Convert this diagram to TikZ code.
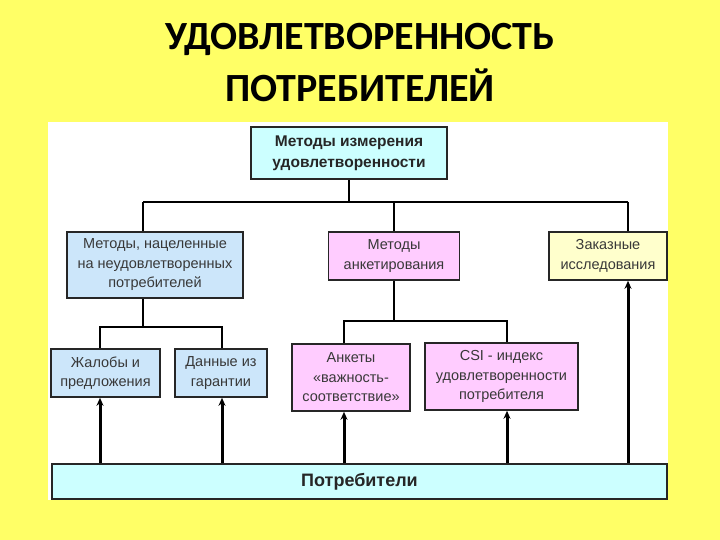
\documentclass[tikz,border=0pt]{standalone}
\usepackage{fontspec}
\setmainfont{Liberation Sans}
\newfontfamily\titlefont{Carlito}
\usetikzlibrary{arrows.meta}

\definecolor{bgyellow}{RGB}{255,255,102}
\definecolor{topcyan}{RGB}{204,255,255}
\definecolor{lblue}{RGB}{204,230,250}
\definecolor{lpink}{RGB}{255,204,255}
\definecolor{lyellow}{RGB}{255,255,204}

\begin{document}
\begin{tikzpicture}[x=1pt, y=-1pt,
    box/.style={rectangle, draw=black!85, line width=1.6pt, inner sep=0pt, align=center,
        font=\fontsize{14.5}{19.5}\selectfont, text=black!78},
    link/.style={line width=2.2pt},
    uparrow/.style={line width=3pt, -{Stealth[length=8pt, width=7pt]}},
    title/.style={font=\titlefont\bfseries\fontsize{40}{52}\selectfont, align=center}
]
    % background and panel
    \fill[bgyellow] (0,0) rectangle (720,540);
    \fill[white] (48,122) rectangle (668,500);

    % title
    \node[title] (title) at (360,63) {УДОВЛЕТВОРЕННОСТЬ\\ПОТРЕБИТЕЛЕЙ};

    % top
    \node[box, fill=topcyan, minimum width=196, minimum height=52, text=black!85,
        font=\bfseries\fontsize{15.5}{21}\selectfont]
        (top) at (349,153) {Методы измерения\\удовлетворенности};

    % second level
    \node[box, fill=lblue, minimum width=176, minimum height=66] (unsat) at (155,265)
        {Методы, нацеленные\\на неудовлетворенных\\потребителей};
    \node[box, fill=lpink, minimum width=131, minimum height=48] (survey) at (394,256)
        {Методы\\анкетирования};
    \node[box, fill=lyellow, minimum width=118, minimum height=48] (ordered) at (608,256)
        {Заказные\\исследования};

    % third level
    \node[box, fill=lblue, minimum width=109, minimum height=48] (complaints) at (105.5,373)
        {Жалобы и\\предложения};
    \node[box, fill=lblue, minimum width=92, minimum height=48] (warranty) at (221,373)
        {Данные из\\гарантии};
    \node[box, fill=lpink, minimum width=118, minimum height=67] (importance) at (351,377.5)
        {Анкеты\\«важность-\\соответствие»};
    \node[box, fill=lpink, minimum width=153, minimum height=67] (csi) at (501.5,376.5)
        {CSI - индекс\\удовлетворенности\\потребителя};

    % consumers
    \node[box, fill=topcyan, minimum width=615, minimum height=35, text=black!85,
        font=\bfseries\fontsize{18}{22}\selectfont]
        (consumers) at (359.5,481.5) {Потребители};

    % tree links
    \coordinate (busL) at (143,202);
    \coordinate (busR) at (628,202);
    \draw[link] (busL) -- (busR);
    \draw[link] (top.south) -- (top.south |- busL);
    \draw[link] (busL) -- (busL |- unsat.north);
    \draw[link] (survey.north |- busL) -- (survey.north);
    \draw[link] (busR) -- (busR |- ordered.north);

    \coordinate (forkL) at (143,327);
    \coordinate (cA) at (100,327);
    \coordinate (cB) at (222,327);
    \draw[link] (forkL |- unsat.south) -- (forkL);
    \draw[link] (cA |- complaints.north) -- (cA) -- (cB) -- (cB |- warranty.north);

    \coordinate (forkM) at (394,321);
    \coordinate (cC) at (344,321);
    \coordinate (cD) at (507,321);
    \draw[link] (survey.south) -- (forkM);
    \draw[link] (cC |- importance.north) -- (cC) -- (cD) -- (cD |- csi.north);

    % arrows from consumers
    \draw[uparrow] (cA |- consumers.north) -- (cA |- complaints.south);
    \draw[uparrow] (cB |- consumers.north) -- (cB |- warranty.south);
    \draw[uparrow] (cC |- consumers.north) -- (cC |- importance.south);
    \draw[uparrow] (cD |- consumers.north) -- (cD |- csi.south);
    \draw[uparrow] (busR |- consumers.north) -- (busR |- ordered.south);
\end{tikzpicture}
\end{document}
